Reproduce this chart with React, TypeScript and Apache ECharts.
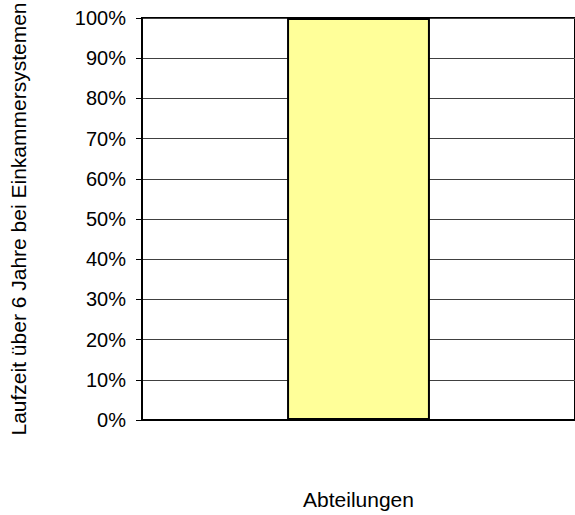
import React, { useEffect, useRef } from "react";
import * as echarts from "echarts";

// Share of runs lasting more than 6 years, per department
const categories: string[] = [""];
const shareOver6Years: number[] = [1.0];

const yTicksMin = 0;
const yTicksMax = 1;
const yTickStep = 0.1;

const FONT = "'Liberation Sans', Arial, sans-serif";

export default function App() {
  const ref = useRef<HTMLDivElement>(null);

  useEffect(() => {
    if (!ref.current) return;
    const chart = echarts.init(ref.current, null, { renderer: "svg" });
    chart.setOption({
      animation: false,
      backgroundColor: "#ffffff",
      grid: {
        left: 140,
        top: 18,
        width: 438,
        height: 408,
        show: true,
        borderColor: "#000000",
        borderWidth: 2,
        backgroundColor: "transparent",
      },
      xAxis: {
        type: "category",
        data: categories,
        name: "Abteilungen",
        nameLocation: "middle",
        nameGap: 69,
        nameTextStyle: { color: "#000", fontSize: 21, fontFamily: FONT },
        axisLine: { show: true, lineStyle: { color: "#000", width: 2 } },
        axisTick: { show: false },
        axisLabel: { show: false },
        splitLine: { show: false },
      },
      yAxis: {
        type: "value",
        min: yTicksMin,
        max: yTicksMax,
        interval: yTickStep,
        name: "Laufzeit über 6 Jahre bei Einkammersystemen",
        nameLocation: "middle",
        nameRotate: 90,
        nameGap: 113,
        nameTextStyle: { color: "#000", fontSize: 21, fontFamily: FONT },
        axisLine: { show: true, lineStyle: { color: "#000", width: 2 } },
        axisTick: { show: true, length: 6, lineStyle: { color: "#000", width: 1 } },
        axisLabel: {
          color: "#000",
          fontSize: 20,
          fontFamily: FONT,
          margin: 16,
          formatter: (v: number) => `${Math.round(v * 100)}%`,
        },
        splitLine: { show: true, lineStyle: { color: "#404040", width: 1 } },
      },
      series: [
        {
          type: "bar",
          data: shareOver6Years,
          barWidth: "33%",
          itemStyle: { color: "#FFFF99", borderColor: "#000000", borderWidth: 2 },
        },
      ],
    });
    return () => chart.dispose();
  }, []);

  return (
    <div
      ref={ref}
      style={{ position: "fixed", left: 0, top: 0, width: 575, height: 515 }}
    />
  );
}
